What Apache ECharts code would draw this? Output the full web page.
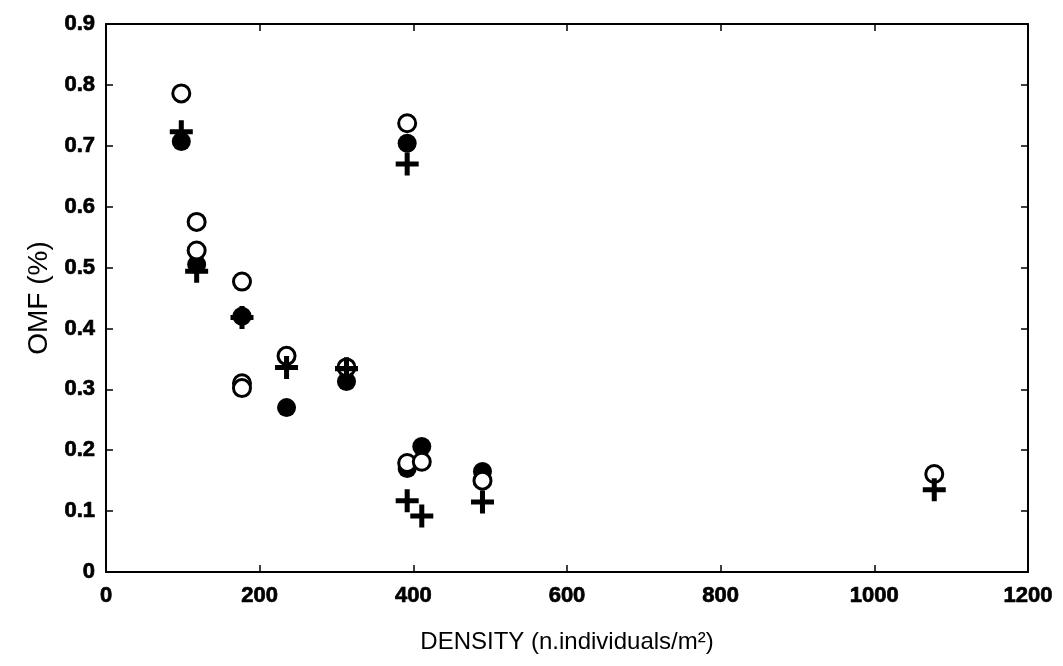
<!DOCTYPE html>
<html>
<head>
<meta charset="utf-8">
<script src="https://cdn.jsdelivr.net/npm/echarts@6/dist/echarts.min.js"></script>
<style>
  html, body { margin: 0; padding: 0; background: #fff; }
  #chart { width: 1063px; height: 666px; }
</style>
</head>
<body>
<div id="chart"></div>
<script>
// open circles (density, OMF)
const openPts = [
  [98, 0.786], [118, 0.575], [118, 0.528], [177, 0.477], [177, 0.310], [177, 0.302],
  [235, 0.355], [313, 0.336], [392, 0.737], [392, 0.179], [411, 0.181], [490, 0.150],
  [1078, 0.161]
];
// filled circles
const filledPts = [
  [98, 0.707], [118, 0.505], [177, 0.420], [235, 0.270], [313, 0.313], [392, 0.704],
  [392, 0.170], [411, 0.206], [490, 0.165]
];
// crosses
const plusPts = [
  [98, 0.723], [118, 0.494], [177, 0.418], [235, 0.336], [313, 0.334], [392, 0.670],
  [392, 0.117], [411, 0.092], [490, 0.115], [1078, 0.135]
];

const xMin = 0, xMax = 1200, xStep = 200;
const yMin = 0, yMax = 0.9, yStep = 0.1;

const plusPath = 'path://M4.3,0H6.7V4.3H11V6.7H6.7V11H4.3V6.7H0V4.3H4.3Z';

const chart = echarts.init(document.getElementById('chart'));

const lbl = {
  color: '#000', fontFamily: 'Liberation Sans', fontWeight: 'bold', fontSize: 22,
  textBorderColor: '#000', textBorderWidth: 0.7
};
const line = { show: true, onZero: false, lineStyle: { color: '#000', width: 2 } };
const tick = { show: true, inside: true, length: 7, lineStyle: { color: '#000', width: 1.5 } };
const nameStyle = { color: '#000', fontFamily: 'Liberation Sans', fontSize: 24 };

chart.setOption({
  animation: false,
  backgroundColor: '#fff',
  grid: { left: 106, right: 35, top: 24, bottom: 94 },
  xAxis: [
    {
      type: 'value', min: xMin, max: xMax, interval: xStep,
      axisLine: line, axisTick: tick, splitLine: { show: false },
      axisLabel: Object.assign({ margin: 13, formatter: v => String(v) }, lbl),
      name: 'DENSITY (n.individuals/m²)', nameLocation: 'middle', nameGap: 58,
      nameTextStyle: nameStyle
    },
    {
      type: 'value', position: 'top', min: xMin, max: xMax, interval: xStep,
      axisLine: line, axisTick: tick, axisLabel: { show: false }, splitLine: { show: false }
    }
  ],
  yAxis: [
    {
      type: 'value', min: yMin, max: yMax, interval: yStep,
      axisLine: line, axisTick: tick, splitLine: { show: false },
      axisLabel: Object.assign({ margin: 11, formatter: v => v === 0 ? '0' : v.toFixed(1) }, lbl),
      name: 'OMF (%)', nameLocation: 'middle', nameGap: 52, nameRotate: 90,
      nameTextStyle: Object.assign({}, nameStyle, { fontSize: 28 })
    },
    {
      type: 'value', position: 'right', min: yMin, max: yMax, interval: yStep,
      axisLine: line, axisTick: tick, axisLabel: { show: false }, splitLine: { show: false }
    }
  ],
  series: [
    {
      type: 'scatter', data: filledPts, symbol: 'circle', symbolSize: 19, z: 2,
      itemStyle: { color: '#000', opacity: 1 }
    },
    {
      type: 'scatter', data: openPts, symbol: 'circle', symbolSize: 17, z: 3,
      itemStyle: { color: '#fff', borderColor: '#000', borderWidth: 3, opacity: 1 }
    },
    {
      type: 'scatter', data: plusPts, symbol: plusPath, symbolSize: 23, z: 4,
      itemStyle: { color: '#000', opacity: 1 }
    }
  ]
});
</script>
</body>
</html>
